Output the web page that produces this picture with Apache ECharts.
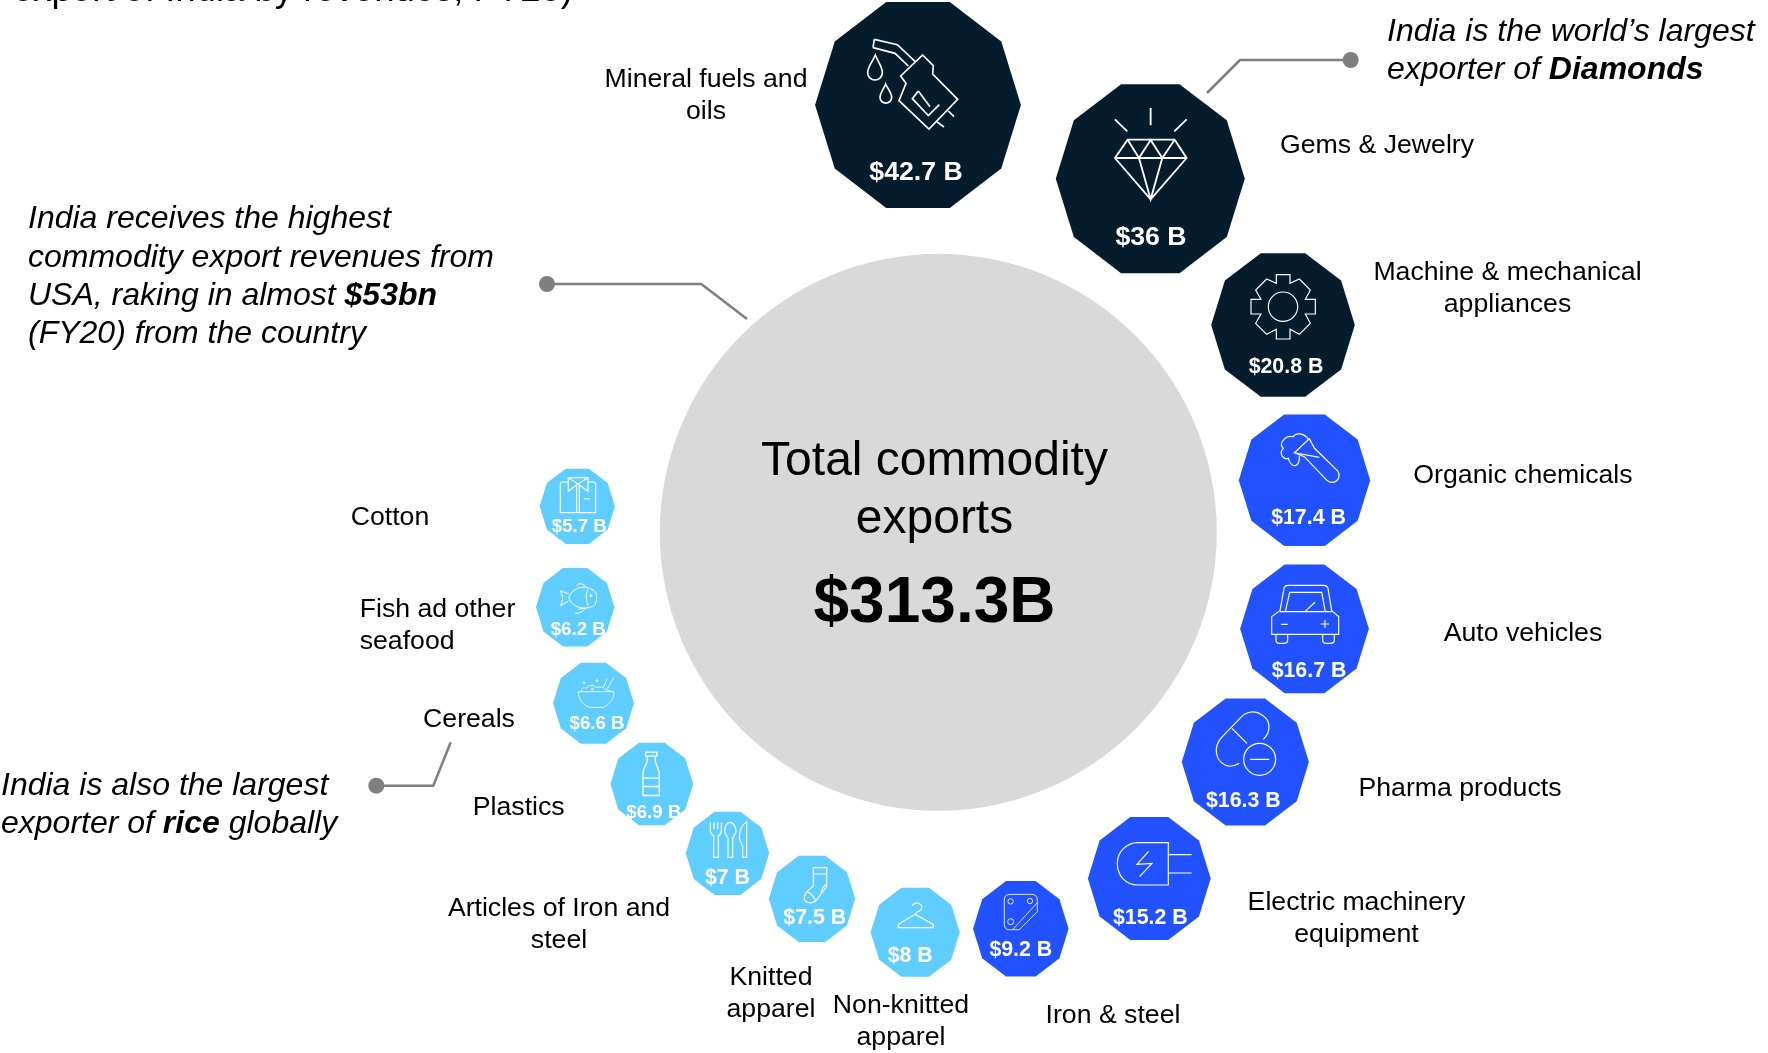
<!DOCTYPE html>
<html>
<head>
<meta charset="utf-8">
<style>
  html, body { margin: 0; padding: 0; background: #fff; overflow: hidden; }
  #chart { width: 1768px; height: 1053px; }
</style>
<script src="https://cdn.jsdelivr.net/npm/echarts@6/dist/echarts.min.js"></script>
</head>
<body>
<div id="chart"></div>
<script>
// values, billions of USD
const categories = ['Mineral fuels and\noils', 'Gems & Jewelry', 'Machine & mechanical\nappliances', 'Organic chemicals',
  'Auto vehicles', 'Pharma products', 'Electric machinery\nequipment', 'Iron & steel', 'Non-knitted\napparel',
  'Knitted\napparel', 'Articles of Iron and\nsteel', 'Plastics', 'Cereals', 'Fish ad other\nseafood', 'Cotton']
const exportValues = [42.7, 36, 20.8, 17.4, 16.7, 16.3, 15.2, 9.2, 8, 7.5, 7, 6.9, 6.6, 6.2, 5.7]
const valueLabels = ['$42.7 B', '$36 B', '$20.8 B', '$17.4 B', '$16.7 B', '$16.3 B', '$15.2 B', '$9.2 B', '$8 B',
  '$7.5 B', '$7 B', '$6.9 B', '$6.6 B', '$6.2 B', '$5.7 B']
const totalValue = 313.3
const totalTitle = 'Total commodity\nexports'
const totalLabel = '$313.3B'

// layout of the ring, separate from the values
const bubbleCenters = [[918, 105], [1150.3, 178.7], [1283, 325], [1304.5, 480.2], [1304.5, 628.8], [1245.3, 762],
  [1149.3, 878.5], [1020.8, 928.7], [915.2, 932.2], [812, 898.8], [727.5, 853.3], [651.8, 784], [593.5, 703.2],
  [575.2, 607.3], [577.3, 506.3]]
const valueLabelOffsets = [[-2, 67.7], [0.7, 58.6], [3, 42], [4, 37.5], [4.5, 42.5], [-2, 39], [1, 39.5], [0, 21.6],
  [-5, 23.8], [2.7, 19.5], [0, 24.7], [2, 29], [3.5, 21], [3, 23], [2, 20.5]]
const valueFontSizes = [26.67, 26.67, 21.33, 21.33, 21.33, 21.33, 21.33, 21.33, 21.33, 21.33, 21.33, 18.67, 18.67, 18.67, 18.67]
const categoryAnchors = [[706, 95.5], [1377, 146], [1507.5, 289], [1523, 475.4], [1523, 633.2], [1460, 789],
  [1356.5, 918.7], [1113, 1015.6], [901, 1021.5], [771, 994], [559, 925], [518.7, 808], [469, 720],
  [359.7, 625.5], [390, 518]]
const bubbleColors = ['#051C2C', '#051C2C', '#051C2C', '#2251FF', '#2251FF', '#2251FF', '#2251FF', '#2251FF',
  '#60CDFF', '#60CDFF', '#60CDFF', '#60CDFF', '#60CDFF', '#60CDFF', '#60CDFF']
const sizePerSqrtValue = 31.5

const totalCenter = [938.3, 532.3]
const leaderLines = [
  [[1350.7, 60], [1240, 60], [1207, 93]],
  [[547, 284], [701.3, 284], [747, 319]],
  [[376.3, 785.7], [433.3, 785.7], [450.7, 742.3]]
]

function circle(cx, cy, r) {
  return 'M' + (cx - r) + ' ' + cy + 'A' + r + ' ' + r + ' 0 1 1 ' + (cx + r) + ' ' + cy +
    'A' + r + ' ' + r + ' 0 1 1 ' + (cx - r) + ' ' + cy + 'Z'
}

// icon outlines, traced at 3x, each with the point of the icon that sits on the bubble centre
const iconPaths = [
  { origin: [414, 315], lineWidth: 5, d: 'M283 118L352 134L405 184M279 143L345 160L385 198M283 118L279 143' +
    'M428 165L460 197L458 222L533 298L447 387L357 302L378 250L362 228Z' +
    'M415 273L397 296L445 347L478 314M415 273L450 320M505 333L522 350M470 365L492 381' +
    'M286 165C275 190 263 200 263 218A22 22 0 0 0 307 218C307 200 296 190 286 165Z' +
    'M317 252C310 270 300 278 300 292A17.5 17.5 0 0 0 335 292C335 278 325 270 317 252Z' },
  { origin: [1111, 536], lineWidth: 5.5, d: 'M1043 419L1184 419L1220 474L1112 598L1005 474ZM1005 474L1220 474' +
    'M1043 419L1077 474L1112 420L1147 474L1184 419M1077 474L1112 598L1147 474' +
    'M1112 324L1112 376M1005 358L1042 394M1220 358L1183 394' },
  { origin: [309, 255], lineWidth: 3.5, d: 'M289 130L289 104L330 104L330 130L358 117L391 150L376 178L406 178L406 222L376 222' +
    'L391 250L358 283L330 268L330 297L289 297L289 268L260 283L227 250L243 222L213 222L213 178L243 178L227 150L260 117Z' +
    circle(309, 200, 44) },
  { origin: [373.5, 720.5], lineWidth: 3.5, d: 'M388 596L343 638L373 650L440 720A20 20 0 0 0 472 692L403 624ZM343 638L418 652' +
    'M385 598C370 575 345 580 340 590C315 585 295 610 310 625C295 640 310 660 325 655C335 690 360 680 358 648' },
  { origin: [373.5, 1166.5], lineWidth: 3.5, d: 'M275 1130L300 1112L312 1045Q314 1036 325 1036L430 1036Q442 1036 444 1045' +
    'L455 1112L476 1130L476 1183L275 1183ZM316 1115L329 1057L425 1057L436 1115M300 1115L455 1115' +
    'M288 1183L288 1200Q288 1210 298 1210L312 1210Q323 1210 323 1200L323 1183' +
    'M428 1183L428 1200Q428 1210 438 1210L452 1210Q463 1210 463 1200L463 1183' +
    'M375 1115L405 1087M303 1153L323 1153M422 1152L447 1152M435 1140L435 1164' },
  { origin: [886, 246], lineWidth: 3.5, d: 'M940 178C965 155 960 120 940 108C915 88 890 95 875 110L815 172' +
    'C790 200 795 240 825 255C840 262 855 258 868 250M846 145L891 190M900 238L958 238' + circle(929, 238, 48) },
  { origin: [598, 595.5], lineWidth: 3.5, d: 'M655 488L655 615L565 615C525 615 502 585 502 550C502 515 530 488 565 488Z' +
    'M655 524L725 524M655 579L725 579M596 514L561 553L606 550L569 590' },
  { origin: [212.5, 746], lineWidth: 2.5, d: 'M180 643L245 643Q262 643 262 660L262 695L208 749L178 749Q163 749 163 733L163 660Q163 643 180 643Z' +
    'M188 749L262 668' + circle(182, 664, 8) + circle(240, 663, 8) + circle(182, 725, 9) },
  { origin: [945.5, 606.5], lineWidth: 3.5, d: 'M937 527C945 512 968 520 965 535C962 545 945 545 945 553L1000 583L1000 593L895 593L895 583L945 553' },
  { origin: [636, 506.5], lineWidth: 3.5, d: 'M640 413L680 413L680 470L650 510C640 522 620 522 613 508C610 495 620 485 640 468Z' +
    'M640 432L680 432M663 490C665 477 670 468 680 462M620 484C635 492 645 505 647 515' },
  { origin: [382.5, 370], lineWidth: 3.5, d: 'M331 277L331 302C331 312 340 316 341 318L341 382L355 382L355 318C358 316 364 310 364 302L364 277' +
    'M342 277L342 298M353 277L353 298M390 277C378 277 374 295 374 303C374 315 384 320 384 325L384 382L398 382L398 325C398 320 408 315 408 303C408 295 402 277 390 277Z' +
    'M440 275C425 285 418 300 418 325L428 350L428 382L440 382Z' },
  { origin: [155.5, 162.5], lineWidth: 4, d: 'M137 67L171 67L171 79L137 79ZM142 79L142 95C135 110 129 120 129 130L129 197L178 197L178 130C178 120 170 110 166 95L166 79' +
    'M129 145L178 145M129 170L178 170' },
  { origin: [220.5, 759.5], lineWidth: 2.5, d: 'M175 725L282 725C282 750 265 765 250 772L208 772C190 765 175 750 175 725Z' +
    'M183 723C185 712 195 712 200 715C205 703 225 703 228 713C240 708 250 712 255 718L272 723M250 712L262 686M262 716L282 682' +
    circle(193, 698, 3) + circle(231, 692, 3) + circle(217, 717, 3) },
  { origin: [165.5, 472], lineWidth: 3, d: 'M146 443C160 405 205 405 224 425C232 438 232 452 224 465C205 480 160 480 146 443Z' +
    'M203 418C197 435 197 450 205 468M146 432L120 422C130 440 130 450 121 467L146 453' +
    'M170 407C175 398 190 400 200 412M165 490C180 490 190 485 195 475L175 478' + circle(213, 437, 3) },
  { origin: [172, 169], lineWidth: 3.5, d: 'M145 96L128 96Q121 96 121 103L121 188L227 188L227 103Q227 96 220 96L204 96' +
    'M145 83L204 83L204 124L174 102L145 124ZM145 83L174 102L204 83M170 108L170 188M178 108L178 188M192 146L210 146' }
]

const fontFamily = '"Liberation Sans", Arial, sans-serif'

function renderBubble(params, api) {
  const i = params.dataIndex
  const center = api.coord([api.value(0), api.value(1)])
  const r = sizePerSqrtValue * Math.sqrt(api.value(2)) / 2
  const points = []
  for (let k = 0; k < 10; k++) {
    const a = k * Math.PI / 5
    // flat top and bottom, square bounding box
    points.push([center[0] + r * Math.cos(a), center[1] + r * Math.sin(a) / Math.sin(Math.PI * 2 / 5)])
  }
  const icon = iconPaths[i]
  const anchor = categoryAnchors[i]
  const offset = valueLabelOffsets[i]
  return {
    type: 'group',
    children: [
      { type: 'polygon', shape: { points: points }, style: { fill: bubbleColors[i] } },
      {
        type: 'group',
        x: center[0],
        y: center[1],
        scaleX: 1 / 3,
        scaleY: 1 / 3,
        children: [{
          type: 'path',
          x: -icon.origin[0],
          y: -icon.origin[1],
          shape: { pathData: icon.d },
          style: { fill: 'none', stroke: '#fff', lineWidth: icon.lineWidth, lineJoin: 'miter' }
        }]
      },
      {
        type: 'text',
        style: {
          text: valueLabels[i],
          x: center[0] + offset[0],
          y: center[1] + offset[1],
          align: 'center',
          verticalAlign: 'middle',
          fill: '#fff',
          fontFamily: fontFamily,
          fontWeight: 'bold',
          fontSize: valueFontSizes[i]
        }
      },
      {
        type: 'text',
        style: {
          text: categories[i],
          x: anchor[0],
          y: anchor[1],
          align: categories[i].indexOf('Fish') === 0 ? 'left' : 'center',
          verticalAlign: 'middle',
          lineHeight: 32,
          fill: '#000',
          fontFamily: fontFamily,
          fontSize: 26.67
        }
      }
    ]
  }
}

const calloutRich = {
  i: { fontFamily: fontFamily, fontSize: 32, fontStyle: 'italic', lineHeight: 38.4, fill: '#000' },
  b: { fontFamily: fontFamily, fontSize: 32, fontStyle: 'italic', fontWeight: 'bold', lineHeight: 38.4, fill: '#000' }
}

function callout(text, x, y) {
  return { type: 'text', z: 10, x: x, y: y, style: { text: text, rich: calloutRich, align: 'left', verticalAlign: 'middle' } }
}

const chart = echarts.init(document.getElementById('chart'))
chart.setOption({
  animation: false,
  backgroundColor: '#fff',
  grid: { left: 0, right: 0, top: 0, bottom: 0 },
  xAxis: { type: 'value', min: 0, max: 1768, show: false },
  yAxis: { type: 'value', min: 0, max: 1053, inverse: true, show: false },
  series: [
    {
      type: 'scatter',
      z: 1,
      symbol: 'circle',
      symbolSize: 557,
      silent: true,
      itemStyle: { color: '#D9D9D9', opacity: 1 },
      data: [[totalCenter[0], totalCenter[1], totalValue]]
    },
    {
      type: 'custom',
      z: 2,
      silent: true,
      clip: false,
      renderItem: renderBubble,
      data: exportValues.map((v, i) => [bubbleCenters[i][0], bubbleCenters[i][1], v])
    }
  ].concat(leaderLines.map(points => ({
    type: 'line',
    z: 3,
    silent: true,
    data: points,
    showAllSymbol: true,
    symbol: (value, params) => params.dataIndex === 0 ? 'circle' : 'none',
    symbolSize: 16,
    lineStyle: { color: '#7F7F7F', width: 2.5 },
    itemStyle: { color: '#7F7F7F' }
  }))),
  graphic: [
    { type: 'text', z: 10, x: 13, y: -9, style: { text: 'export of India by revenues, FY20)', fontFamily: fontFamily, fontSize: 36.5, fill: '#000', verticalAlign: 'middle' } },
    { type: 'text', z: 10, x: 934.5, y: 491, style: { text: totalTitle, fontFamily: fontFamily, fontSize: 48, lineHeight: 58, fill: '#000', align: 'center', verticalAlign: 'middle' } },
    { type: 'text', z: 10, x: 934.5, y: 604, style: { text: totalLabel, fontFamily: fontFamily, fontSize: 64, fontWeight: 'bold', fill: '#000', align: 'center', verticalAlign: 'middle' } },
    callout('{i|India is the world\u2019s largest}\n{i|exporter of }{b|Diamonds}', 1387, 51),
    callout('{i|India receives the highest}\n{i|commodity export revenues from}\n{i|USA, raking in almost }{b|$53bn}\n{i|(FY20) from the country}', 28, 276.8),
    callout('{i|India is also the largest}\n{i|exporter of }{b|rice}{i| globally}', 1, 805.3)
  ]
})
</script>
</body>
</html>
